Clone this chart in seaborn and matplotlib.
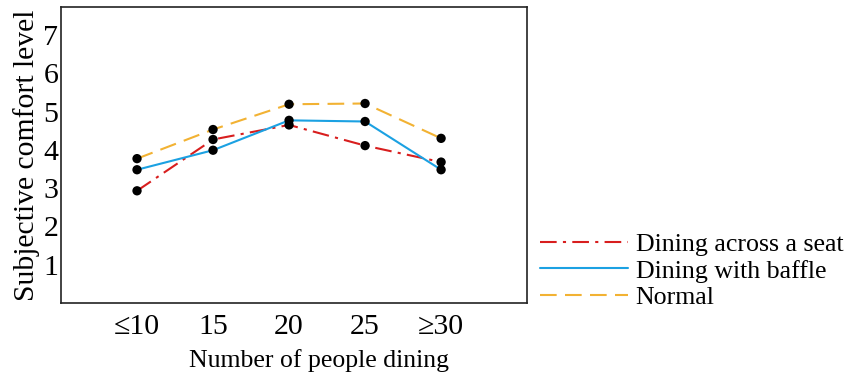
import numpy as np
import pandas as pd
import matplotlib
matplotlib.use("Agg")
import matplotlib.pyplot as plt
import seaborn as sns

categories = ["≤10", "15", "20", "25", "≥30"]
across_seat = [2.93, 4.27, 4.65, 4.11, 3.68]
with_baffle = [3.48, 3.99, 4.77, 4.74, 3.48]
normal = [3.77, 4.53, 5.19, 5.21, 4.30]
series_names = ["Dining across a seat", "Dining with baffle", "Normal"]
yticks = [1, 2, 3, 4, 5, 6, 7]

sns.set_theme(style="white")
plt.rcParams["font.family"] = ["Liberation Serif", "DejaVu Serif"]
plt.rcParams["text.color"] = "black"
plt.rcParams["axes.labelcolor"] = "black"
plt.rcParams["xtick.color"] = "black"
plt.rcParams["ytick.color"] = "black"

fig = plt.figure(figsize=(8.5, 3.84), dpi=100)
ax = fig.add_axes([61/850, 1-303/384, (527-61)/850, (303-7)/384])

x = np.arange(len(categories))
colors = ["#d81e1e", "#1ba1e2", "#f2b233"]
dashes = [(8, 3, 1.5, 3), "", (8, 4)]
values = [across_seat, with_baffle, normal]

for name, vals, c, d in zip(series_names, values, colors, dashes):
    df = pd.DataFrame({"x": x, "y": vals})
    sns.lineplot(data=df, x="x", y="y", ax=ax, color=c, linewidth=1.5, label=name)
    l = ax.get_lines()[-1]
    if d:
        l.set_dashes(d)

for vals in values:
    df = pd.DataFrame({"x": x, "y": vals})
    sns.scatterplot(data=df, x="x", y="y", ax=ax, color="black", s=45, edgecolor="none", zorder=5, legend=False)

ax.set_xlim(-1, 5.13)
ax.set_ylim(0, 7.73)
ax.set_xticks(x)
ax.set_xticklabels(categories)
ax.set_yticks(yticks)
ax.tick_params(direction="in", length=7.5, width=1, color="#222222", labelsize=21.5, pad=2)
ax.tick_params(axis="x", pad=8)
for s in ax.spines.values():
    s.set_color("#222222")
    s.set_linewidth(1.2)
ax.set_xlabel("Number of people dining", fontsize=18.5)
ax.xaxis.set_label_coords((319-61)/466, -(349-303)/296)
ax.set_ylabel("Subjective comfort level", fontsize=21.3, labelpad=2)

handles, labels = ax.get_legend_handles_labels()
ax.legend(handles, labels, loc="upper left", bbox_to_anchor=(540/850, 1-233/384),
          bbox_transform=fig.transFigure, frameon=False, fontsize=18.6,
          handlelength=3.4, handletextpad=0.3, labelspacing=0.13,
          borderaxespad=0, borderpad=0)

fig.savefig("out.png", dpi=100)
